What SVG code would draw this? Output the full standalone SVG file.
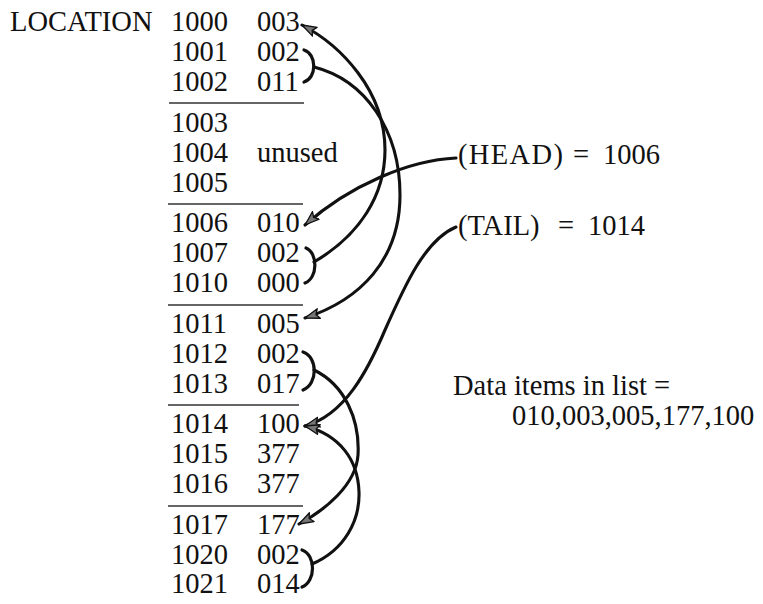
<svg xmlns="http://www.w3.org/2000/svg" width="763" height="604" viewBox="0 0 763 604">
<style>
text{font-family:"Liberation Serif","Times New Roman",serif;font-size:28.5px;fill:#111}
.sep{stroke:#333;stroke-width:1.3}
.link{fill:none;stroke:#111;stroke-width:3.1;stroke-linecap:round}
.brace{fill:none;stroke:#111;stroke-width:3.2;stroke-linecap:round}
</style>
<defs>
<marker id="ah" viewBox="0 0 16 12" refX="15" refY="6" markerUnits="userSpaceOnUse" markerWidth="16" markerHeight="12" orient="auto">
<path d="M0.5,1 L15,6 L0.5,11 L3.5,6 z" fill="#777" stroke="#111" stroke-width="1.3" stroke-linejoin="round"/>
</marker>
</defs>
<rect width="763" height="604" fill="#fff"/>
<text x="10" y="31">LOCATION</text>
<g id="block1">
<g id="r1000"><text x="171" y="31">1000</text><text x="257" y="31">003</text></g>
<g id="r1001"><text x="171" y="61">1001</text><text x="257" y="61">002</text></g>
<g id="r1002"><text x="171" y="91">1002</text><text x="257" y="91">011</text></g>
<line class="sep" x1="169" y1="103" x2="304" y2="103"/>
</g>
<g id="block2">
<g id="r1003"><text x="171" y="132">1003</text></g>
<g id="r1004"><text x="171" y="162">1004</text><text x="257" y="162">unused</text></g>
<g id="r1005"><text x="171" y="192">1005</text></g>
<line class="sep" x1="168" y1="204" x2="303" y2="204"/>
</g>
<g id="block3">
<g id="r1006"><text x="171" y="232">1006</text><text x="257" y="232">010</text></g>
<g id="r1007"><text x="171" y="262">1007</text><text x="257" y="262">002</text></g>
<g id="r1010"><text x="171" y="292">1010</text><text x="257" y="292">000</text></g>
<line class="sep" x1="168" y1="305" x2="303" y2="305"/>
</g>
<g id="block4">
<g id="r1011"><text x="171" y="333">1011</text><text x="257" y="333">005</text></g>
<g id="r1012"><text x="171" y="363">1012</text><text x="257" y="363">002</text></g>
<g id="r1013"><text x="171" y="393">1013</text><text x="257" y="393">017</text></g>
<line class="sep" x1="168" y1="405" x2="299" y2="405"/>
</g>
<g id="block5">
<g id="r1014"><text x="171" y="433">1014</text><text x="257" y="433">100</text></g>
<g id="r1015"><text x="171" y="463">1015</text><text x="257" y="463">377</text></g>
<g id="r1016"><text x="171" y="493">1016</text><text x="257" y="493">377</text></g>
<line class="sep" x1="168" y1="506" x2="303" y2="506"/>
</g>
<g id="block6">
<g id="r1017"><text x="171" y="534">1017</text><text x="257" y="534">177</text></g>
<g id="r1020"><text x="171" y="564">1020</text><text x="257" y="564">002</text></g>
<g id="r1021"><text x="171" y="593">1021</text><text x="257" y="593">014</text></g>
</g>
<g id="head"><text x="458" y="164"><tspan textLength="105">(HEAD)</tspan><tspan x="573">=</tspan><tspan x="603">1006</tspan></text></g>
<g id="tail"><text x="458" y="235">(TAIL)<tspan x="558">=</tspan><tspan x="588">1014</tspan></text></g>
<g id="data"><text x="453" y="395">Data items in list =</text><text x="512" y="425">010,003,005,177,100</text></g>
<g id="connectors">
<path class="brace" d="M304,50 C317,54 317,78 304,82"/>
<path class="brace" d="M306,248 C318,253 318,278 305,283"/>
<path class="brace" d="M303,352 C318,357 318,384 303,390"/>
<path class="brace" d="M302,550 C316,555 316,581 302,587"/>
<path class="link" marker-end="url(#ah)" d="M314,67 C365,80 400,130 400,195 C400,260 360,300 305,318"/>
<path class="link" marker-end="url(#ah)" d="M314,262 C360,235 385,195 385,150 C385,90 340,45 302,25"/>
<path class="link" marker-end="url(#ah)" d="M456,158 C410,160 350,185 305,225"/>
<path class="link" marker-end="url(#ah)" d="M456,227 C425,240 405,285 385,330 C368,370 345,415 305,426"/>
<path class="link" marker-end="url(#ah)" d="M314,370 C345,385 360,420 358,455 C356,485 325,510 299,524"/>
<path class="link" marker-end="url(#ah)" d="M312,564 C345,550 360,520 359,492 C358,460 340,435 305,426"/>
</g>
</svg>
